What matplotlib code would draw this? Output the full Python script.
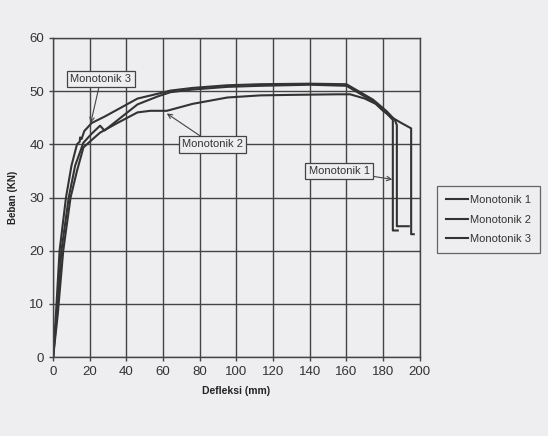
import matplotlib.pyplot as plt

plt.rcParams['font.family'] = ['Liberation Sans', 'DejaVu Sans']

# deflection (mm) / load (kN)
mono1_x = [0, 2, 4.5, 8.5, 12, 16.5, 21, 25.6, 28, 35, 46, 57, 64, 76, 95, 113, 140, 160, 167, 174.5, 182, 185.3, 185.3, 188]
mono1_y = [0, 8, 20, 30, 36, 40.3, 42, 43.5, 42.6, 44.5, 47.5, 49, 49.8, 50.3, 50.8, 51, 51.2, 51, 49.6, 48.1, 45.8, 44.6, 23.8, 23.8]

mono2_x = [0, 2.5, 5.5, 9.5, 13, 16.5, 20, 25.6, 35, 46, 53, 62, 76, 95, 113, 131, 155, 162, 170, 176, 180, 185, 190, 195.3, 195.3, 196.7]
mono2_y = [0, 8, 20, 30, 35, 39.4, 40.5, 42.2, 44, 46, 46.3, 46.3, 47.6, 48.8, 49.2, 49.3, 49.4, 49.4, 48.6, 47.6, 46.3, 45, 44, 43, 23.1, 23.1]

mono3_x = [0, 1.5, 3.5, 7, 10, 13, 14.5, 14.7, 15.5, 17, 21, 28, 36.5, 46, 57, 64, 76, 95, 113, 140, 160, 167, 174.5, 182, 186.4, 187.5, 187.5, 194]
mono3_y = [0, 8, 20, 30, 36, 40, 40.5, 41.3, 41, 42.5, 44, 45.2, 46.8, 48.6, 49.5, 50.1, 50.6, 51.1, 51.3, 51.4, 51.3, 49.9, 48.4, 46.2, 44.6, 43.6, 24.6, 24.6]

bg = '#eeeef0'
ink = '#333333'

fig = plt.figure(figsize=(5.48, 4.36), dpi=100, facecolor=bg)
ax = fig.add_axes([0.097, 0.181, 0.669, 0.732], facecolor=bg)

ax.plot(mono1_x, mono1_y, color=ink, lw=1.5, label='Monotonik 1')
ax.plot(mono2_x, mono2_y, color=ink, lw=1.5, label='Monotonik 2')
ax.plot(mono3_x, mono3_y, color=ink, lw=1.5, label='Monotonik 3')

ax.set_xlim(0, 200)
ax.set_ylim(0, 60)
ax.set_xticks(range(0, 201, 20))
ax.set_yticks(range(0, 61, 10))
ax.grid(True, color='#444444', lw=1)
for s in ax.spines.values():
    s.set_color('#444444')
    s.set_linewidth(1)
ax.tick_params(colors='#444444', labelcolor='#333333', labelsize=9.5, length=3, width=1)

ax.set_xlabel('Defleksi (mm)', fontsize=7.5, fontweight='bold', color='#222222', labelpad=6)
ax.set_ylabel('Beban (KN)', fontsize=7, fontweight='bold', color='#222222', labelpad=8)

box = dict(boxstyle='square,pad=0.3', fc=bg, ec='#444444', lw=0.9)
arr = dict(arrowstyle='->', color='#444444', lw=0.8, shrinkA=0, shrinkB=0)
ax.annotate('Monotonik 3', xy=(20.5, 44), xytext=(26, 52.3), fontsize=8, color='#333333',
            ha='center', va='center', bbox=box, arrowprops=arr)
ax.annotate('Monotonik 2', xy=(62, 45.8), xytext=(87, 40), fontsize=8, color='#333333',
            ha='center', va='center', bbox=box, arrowprops=arr)
ax.annotate('Monotonik 1', xy=(185, 33.4), xytext=(156, 35), fontsize=8, color='#333333',
            ha='center', va='center', bbox=box, arrowprops=arr)

leg = fig.legend(loc='upper left', bbox_to_anchor=(0.787, 0.585), fontsize=8,
                 frameon=True, fancybox=False, edgecolor='#444444', facecolor=bg,
                 handlelength=2.0, handletextpad=0.2, borderpad=0.8, labelspacing=0.85)
leg.get_frame().set_linewidth(0.9)
for t in leg.get_texts():
    t.set_color('#333333')

fig.savefig('out.png', dpi=100, facecolor=bg)
